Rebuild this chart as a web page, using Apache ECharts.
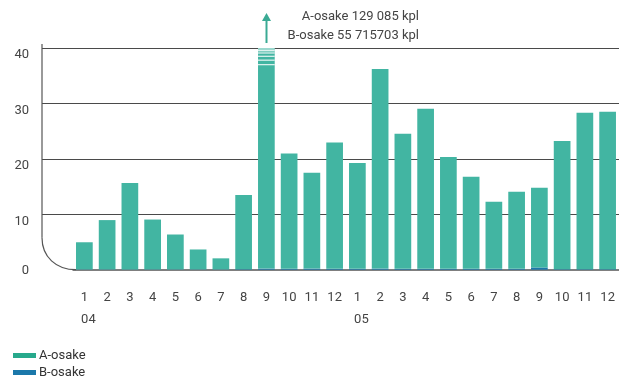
<!DOCTYPE html>
<html>
<head>
<meta charset="utf-8">
<script src="https://cdn.jsdelivr.net/npm/echarts@6/dist/echarts.min.js"></script>
<style>
    html, body { margin: 0; padding: 0; background: #fff; }
    #chart { width: 619px; height: 378px; }
</style>
</head>
<body>
<div id="chart"></div>
<script>
// kuukaudet 2004-2005
var months = ["1", "2", "3", "4", "5", "6", "7", "8", "9", "10", "11", "12",
              "1", "2", "3", "4", "5", "6", "7", "8", "9", "10", "11", "12"];
var years = {0: "04", 12: "05"};
var aValues = [4.9, 8.9, 15.6, 9.0, 6.3, 3.6, 2.0, 13.4, 39.8, 20.8, 17.3, 22.8,
               19.1, 36.0, 24.4, 28.9, 20.2, 16.6, 12.1, 13.9, 14.4, 23.1, 28.2, 28.4];
var bValues = [0.05, 0.05, 0.05, 0.05, 0.05, 0.05, 0.05, 0.1, 0.2, 0.15, 0.2, 0.15,
               0.15, 0.2, 0.15, 0.15, 0.15, 0.15, 0.15, 0.15, 0.4, 0.1, 0.1, 0.1];
// katkaistun pylvään raidat (arvoasteikolla)
var breakStripes = [39.5, 39.1, 38.5, 37.8, 37.0];
var breakIndex = 8;
var noteLines = ["A-osake 129 085 kpl", "B-osake 55 715703 kpl"];

var colorA = "#42b5a2";
var colorB = "#1b78aa";
var textColor = "#444";
var lineColor = "#4a4a4a";
var fontName = "Roboto";

var chart = echarts.init(document.getElementById("chart"));

function monthLabel(value, index) {
    if (years[index] !== undefined) {
        return "{m|" + value + "}\n{y|" + years[index] + "}";
    }
    return "{m|" + value + "}";
}

function yLabel(value) {
    if (value === 0) return "{z|0}";
    return "{v|" + value + "}";
}

function legendBox(name, color, top) {
    return {
        orient: "vertical",
        left: 8,
        top: top,
        itemWidth: 23,
        itemHeight: 5,
        icon: "rect",
        textStyle: {color: "#333", fontSize: 13, fontFamily: fontName, padding: [0, 0, 0, -2]},
        data: [{name: name, itemStyle: {color: color}}]
    };
}

var stripeData = breakStripes.map(function (v) { return [breakIndex, v]; });

var option = {
    animation: false,
    textStyle: {fontFamily: fontName},
    legend: [
        legendBox("A-osake", "#27a98c", 344),
        legendBox("B-osake", colorB, 361)
    ],
    grid: [
        {left: 73, width: 547.7, top: 48, bottom: 108.3},
        {left: 42, right: 0, top: 48, bottom: 108.3}
    ],
    xAxis: [{
        type: "category",
        gridIndex: 0,
        data: months,
        axisTick: {show: false},
        axisLine: {show: true, lineStyle: {color: "#555", width: 1.5}},
        axisLabel: {
            margin: 17,
            interval: 0,
            formatter: monthLabel,
            rich: {
                m: {fontSize: 13, color: textColor, lineHeight: 22, fontFamily: fontName},
                y: {fontSize: 13, color: textColor, lineHeight: 22, fontFamily: fontName, padding: [0, 0, 0, 8]}
            }
        }
    }, {
        type: "value",
        gridIndex: 1,
        show: false
    }],
    yAxis: [{
        type: "value",
        gridIndex: 0,
        min: 0,
        max: 40,
        interval: 10,
        show: false
    }, {
        type: "value",
        gridIndex: 1,
        min: 0,
        max: 40,
        interval: 10,
        axisLine: {show: false},
        axisTick: {show: false},
        axisLabel: {
            margin: 13,
            formatter: yLabel,
            rich: {
                v: {fontSize: 13, color: textColor, padding: [14, 0, 0, 0], fontFamily: fontName},
                z: {fontSize: 13, color: textColor, padding: [2, 0, 0, 0], fontFamily: fontName}
            }
        },
        splitLine: {
            show: true,
            lineStyle: {color: ["rgba(0,0,0,0)", lineColor, lineColor, lineColor, lineColor], width: 1.2}
        }
    }],
    series: [{
        name: "B-osake",
        type: "bar",
        stack: "osake",
        barWidth: 16.7,
        xAxisIndex: 0,
        yAxisIndex: 0,
        itemStyle: {color: colorB},
        data: bValues
    }, {
        name: "A-osake",
        type: "bar",
        stack: "osake",
        barWidth: 16.7,
        xAxisIndex: 0,
        yAxisIndex: 0,
        itemStyle: {color: colorA},
        data: aValues
    }, {
        name: "katko",
        type: "scatter",
        xAxisIndex: 0,
        yAxisIndex: 0,
        symbol: "rect",
        symbolSize: [16.7, 1.3],
        itemStyle: {color: "#fff"},
        silent: true,
        data: stripeData,
        z: 5
    }, {
        name: "katkoylä",
        type: "scatter",
        xAxisIndex: 0,
        yAxisIndex: 0,
        symbol: "rect",
        symbolSize: [16.7, 3],
        itemStyle: {color: "rgba(255,255,255,0.6)"},
        silent: true,
        data: [[breakIndex, 39.75]],
        z: 5
    }, {
        name: "nuoli",
        type: "custom",
        xAxisIndex: 0,
        yAxisIndex: 0,
        silent: true,
        clip: false,
        data: [[breakIndex, 40]],
        renderItem: function (params, api) {
            var p = api.coord([api.value(0), api.value(1)]);
            var x = Math.round(p[0]) + 0.5;
            var top = p[1] - 35;
            return {
                type: "group",
                children: [{
                    type: "line",
                    shape: {x1: x, y1: p[1] - 5, x2: x, y2: top + 6},
                    style: {stroke: "#3aaa94", lineWidth: 2}
                }, {
                    type: "polygon",
                    shape: {points: [[x, top], [x - 4.5, top + 8], [x + 4.5, top + 8]]},
                    style: {fill: "#3aaa94"}
                }]
            };
        },
        z: 6
    }]
};

chart.setOption(option);

// pystyakseli, pyöristetty kulma ja huomautusteksti
function drawCorner() {
    var p0 = chart.convertToPixel({gridIndex: 1}, [0, 0]);
    var p40 = chart.convertToPixel({gridIndex: 1}, [0, 40]);
    var gx = 42;
    var y0 = p0[1];
    var yTop = p40[1] - 4;
    chart.setOption({
        graphic: [{
            type: "text",
            right: 200,
            top: 10,
            style: {text: noteLines[0], fill: textColor, font: "13px " + fontName, textAlign: "right"}
        }, {
            type: "text",
            right: 200,
            top: 29,
            style: {text: noteLines[1], fill: textColor, font: "13px " + fontName, textAlign: "right"}
        }, {
            type: "polyline",
            shape: {points: [[gx, yTop], [gx, y0 - 32]]},
            style: {stroke: "#555", lineWidth: 1.2, fill: null},
            silent: true,
            z: 10
        }, {
            type: "bezierCurve",
            shape: {x1: gx, y1: y0 - 32, cpx1: gx, cpy1: y0 - 13, cpx2: gx + 14, cpy2: y0, x2: gx + 34, y2: y0},
            style: {stroke: "#555", lineWidth: 1.2, fill: null},
            silent: true,
            z: 10
        }]
    });
}
drawCorner();
</script>
</body>
</html>
